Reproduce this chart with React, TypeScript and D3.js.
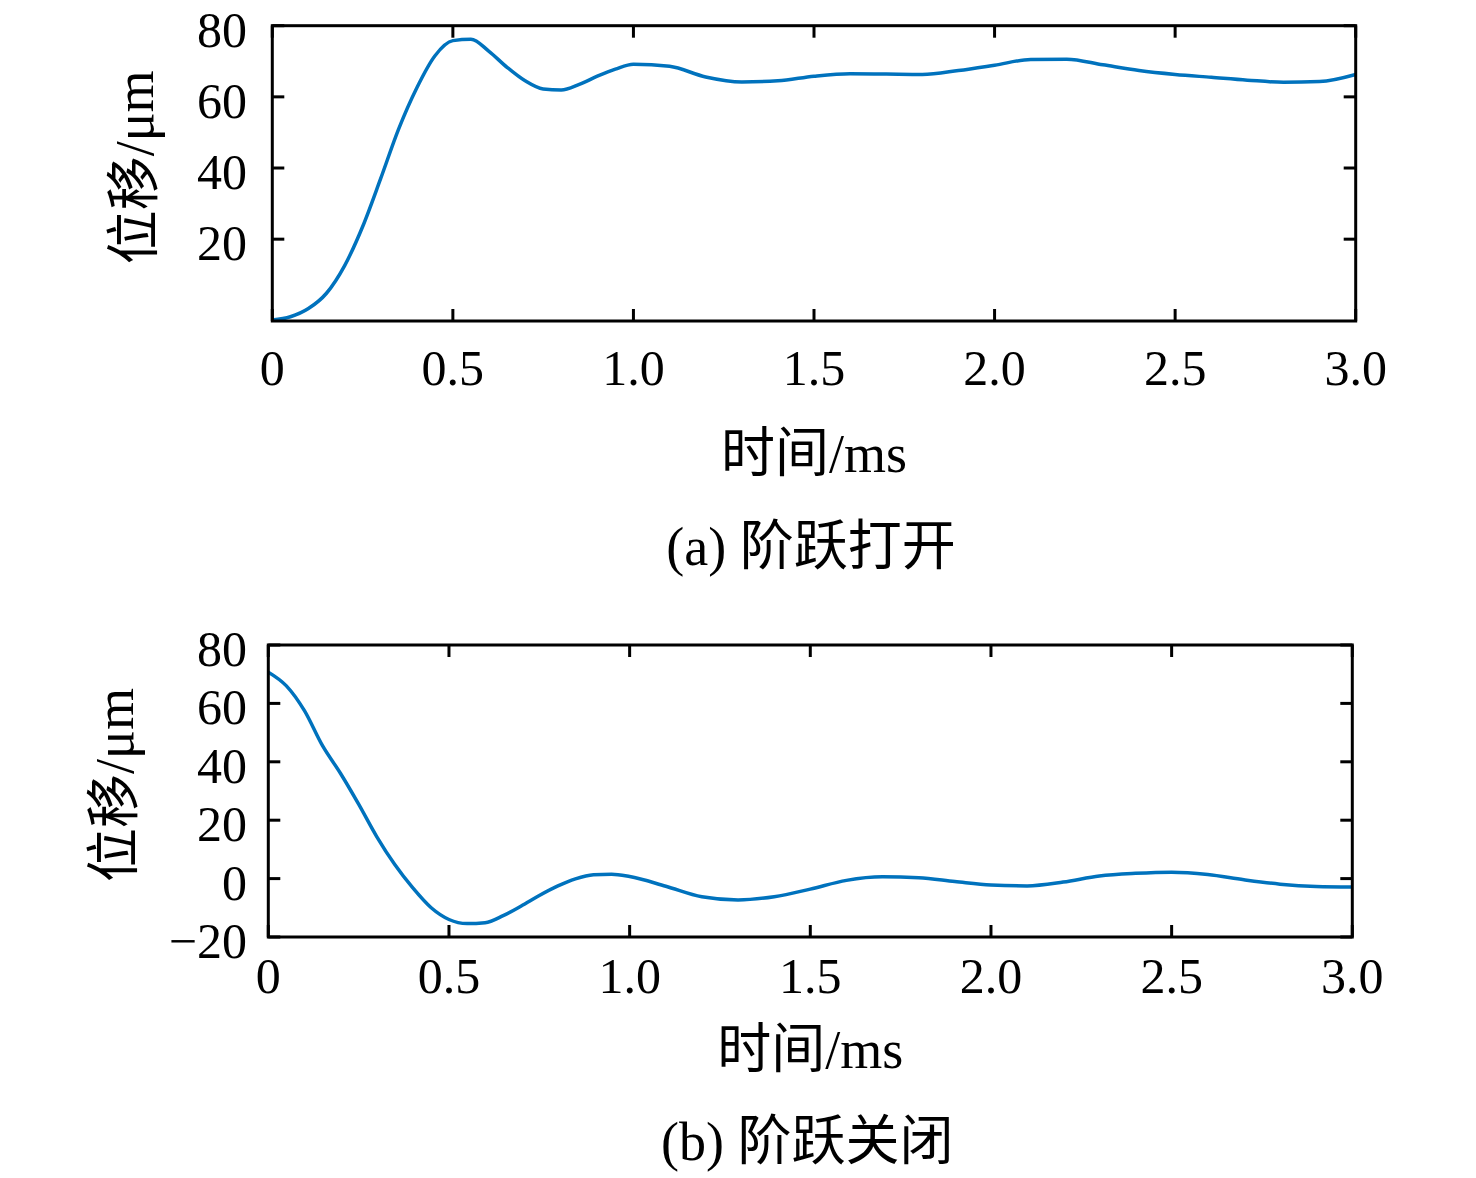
import * as d3 from "d3";

// sample times (ms): dense during the transient, coarser afterwards
const times = [
  0, 0.05, 0.1, 0.15, 0.2, 0.25, 0.3, 0.35, 0.4, 0.45, 0.5, 0.55, 0.6, 0.65, 0.7, 0.75, 0.8, 0.85, 0.9, 0.95, 1.0,
  1.1, 1.2, 1.3, 1.4, 1.5, 1.6, 1.7, 1.8, 1.9, 2.0, 2.1, 2.2, 2.3, 2.4, 2.5, 2.6, 2.7, 2.8, 2.9, 3.0,
];

// (a) step open displacement, μm
const openValues = [
  -2.7, -1.8, 0.5, 4.8, 12.5, 23.5, 37, 51, 62.5, 71.5, 75.8, 76.2, 72.8, 68.3, 64.5, 62.2, 61.9, 63.5, 65.8, 67.8, 69.2,
  68.6, 65.6, 64.2, 64.5, 65.8, 66.5, 66.4, 66.3, 67.4, 68.9, 70.5, 70.6, 69.0, 67.4, 66.3, 65.5, 64.7, 64.1, 64.3, 66.3,
];

// (b) step close displacement, μm
const closeValues = [
  70.7, 66.0, 57.5, 45.5, 36, 25.5, 14.4, 4.8, -3.2, -9.9, -14, -15.4, -15.1, -12.7, -9.4, -5.8, -2.6, -0.1, 1.3, 1.5, 0.7,
  -2.6, -6.2, -7.3, -6.2, -3.6, -0.6, 0.6, 0.3, -1.0, -2.2, -2.5, -1.2, 0.9, 1.8, 2.2, 1.4, -0.4, -1.9, -2.7, -2.9,
];

const xTicks = [0, 0.5, 1.0, 1.5, 2.0, 2.5, 3.0];
const xTickLabels = ["0", "0.5", "1.0", "1.5", "2.0", "2.5", "3.0"];
const openYTicks = [20, 40, 60, 80];
const closeYTicks = [-20, 0, 20, 40, 60, 80];

const xLabel = "时间/ms";
const yLabel = "位移/μm";

const serif = "'Liberation Serif', 'Times New Roman', 'Noto Sans CJK SC', serif";
const lineColor = "#0072BD";

interface PanelProps {
  values: number[];
  yDomain: [number, number];
  yTicks: number[];
  left: number;
  right: number;
  top: number;
  bottom: number;
  tickLabelY: number;
  xLabelY: number;
  yLabelX: number;
  caption: string;
  captionY: number;
}

function fmtY(v: number) {
  return v < 0 ? `−${Math.abs(v)}` : `${v}`;
}

function Panel({ values, yDomain, yTicks, left, right, top, bottom, tickLabelY, xLabelY, yLabelX, caption, captionY }: PanelProps) {
  const x = d3.scaleLinear().domain([0, 3]).range([left, right]);
  const y = d3.scaleLinear().domain(yDomain).range([bottom, top]);
  const tick = 12;
  const cx = (left + right) / 2;
  const cy = (top + bottom) / 2;

  const path = d3
    .line<number>()
    .x((_, i) => x(times[i]))
    .y((d) => y(d))
    .curve(d3.curveMonotoneX)(values);

  return (
    <g>
      <defs>
        <clipPath id={`clip-${top}`}>
          <rect x={left} y={top} width={right - left} height={bottom - top} />
        </clipPath>
      </defs>
      <path d={path ?? ""} fill="none" stroke={lineColor} strokeWidth={3.5} clipPath={`url(#clip-${top})`} />

      {xTicks.map((t, i) => (
        <g key={t}>
          <line x1={x(t)} x2={x(t)} y1={bottom} y2={bottom - tick} stroke="#000" strokeWidth={3} />
          <line x1={x(t)} x2={x(t)} y1={top} y2={top + tick} stroke="#000" strokeWidth={3} />
          <text x={x(t)} y={tickLabelY} textAnchor="middle" fontSize={50} fontFamily={serif}>
            {xTickLabels[i]}
          </text>
        </g>
      ))}
      {yTicks.map((v) => (
        <g key={v}>
          <line x1={left} x2={left + tick} y1={y(v)} y2={y(v)} stroke="#000" strokeWidth={3} />
          <line x1={right} x2={right - tick} y1={y(v)} y2={y(v)} stroke="#000" strokeWidth={3} />
          <text x={247} y={y(v)} dy="0.42em" textAnchor="end" fontSize={50} fontFamily={serif}>
            {fmtY(v)}
          </text>
        </g>
      ))}
      <rect x={left} y={top} width={right - left} height={bottom - top} fill="none" stroke="#000" strokeWidth={3} />

      <text x={cx} y={xLabelY} textAnchor="middle" fontSize={54} fontFamily={serif}>
        {xLabel}
      </text>
      <text
        transform={`translate(${yLabelX}, ${cy - 6}) rotate(-90)`}
        textAnchor="middle"
        fontSize={54}
        fontFamily={serif}
      >
        {yLabel}
      </text>
      <text x={cx - 3} y={captionY} textAnchor="middle" fontSize={54} fontFamily={serif}>
        {caption}
      </text>
    </g>
  );
}

export default function App() {
  return (
    <svg
      width={1476}
      height={1178}
      viewBox="0 0 1476 1178"
      style={{ position: "absolute", left: 0, top: 0, background: "#fff" }}
    >
      <rect width={1476} height={1178} fill="#fff" />
      <Panel
        values={openValues}
        yDomain={[-3, 80]}
        yTicks={openYTicks}
        left={272.3}
        right={1355.7}
        top={25.7}
        bottom={321}
        tickLabelY={385}
        xLabelY={472}
        yLabelX={153}
        caption="(a) 阶跃打开"
        captionY={565}
      />
      <Panel
        values={closeValues}
        yDomain={[-20, 80]}
        yTicks={closeYTicks}
        left={268.3}
        right={1352.3}
        top={645}
        bottom={937}
        tickLabelY={993}
        xLabelY={1068}
        yLabelX={133}
        caption="(b) 阶跃关闭"
        captionY={1160}
      />
    </svg>
  );
}
